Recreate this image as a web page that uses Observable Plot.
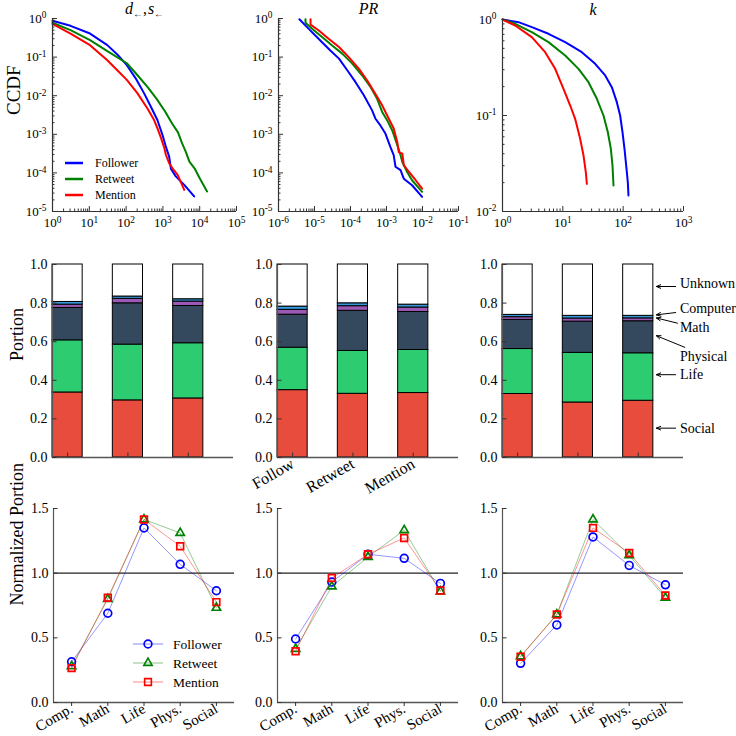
<!DOCTYPE html>
<html><head><meta charset="utf-8">
<script src="https://cdn.jsdelivr.net/npm/d3@7"></script>
<script src="https://cdn.jsdelivr.net/npm/@observablehq/plot@0.6"></script>
<style>
html,body{margin:0;padding:0;background:#fff;}
#fig{position:relative;width:736px;height:736px;overflow:hidden;background:#fff;}
#fig svg{position:absolute;overflow:visible;background:transparent;}
#fig svg text{font-family:"Liberation Serif","Times New Roman",serif;}
</style></head><body><div id="fig"></div>
<script>
// ---------------- data ----------------
const series = ["Follower", "Retweet", "Mention"];
const seriesColors = ["#0000ff", "#008000", "#ff0000"];
const seriesSymbols = ["circle", "triangle", "square"];
const symbolRadius = [3.9, 3.1, 3.8];

// CCDF curves, points as [log10 x, log10 CCDF]
const ccdfD_Follower = [[0,-0.06],[0.49,-0.19],[1.02,-0.39],[1.49,-0.69],[1.76,-0.93],[2.02,-1.21],[2.26,-1.55],[2.49,-1.94],[2.67,-2.28],[2.85,-2.63],[2.99,-3.02],[3.08,-3.32],[3.17,-3.58],[3.22,-3.9],[3.35,-4.09],[3.58,-4.31],[3.85,-4.61]];
const ccdfD_Retweet = [[0,-0.11],[0.49,-0.3],[1.02,-0.56],[1.49,-0.845],[2.02,-1.16],[2.31,-1.47],[2.58,-1.77],[2.82,-2.07],[3.06,-2.41],[3.25,-2.72],[3.41,-2.95],[3.52,-3.23],[3.62,-3.45],[3.72,-3.71],[3.86,-3.88],[4.0,-4.14],[4.2,-4.48]];
const ccdfD_Mention = [[0,-0.14],[0.49,-0.39],[1.02,-0.69],[1.49,-1.08],[1.76,-1.34],[2.02,-1.59],[2.31,-1.94],[2.58,-2.33],[2.76,-2.63],[2.85,-2.84],[2.95,-3.1],[3.04,-3.36],[3.08,-3.53],[3.17,-3.75],[3.26,-3.88],[3.4,-4.05],[3.58,-4.44]];

const ccdfPR_Follower = [[-5.42,-0.02],[-5.16,-0.27],[-4.88,-0.53],[-4.56,-0.83],[-4.32,-1.04],[-4.09,-1.34],[-3.86,-1.65],[-3.63,-1.99],[-3.4,-2.38],[-3.31,-2.59],[-3.17,-2.77],[-3.03,-2.98],[-2.89,-3.33],[-2.8,-3.54],[-2.75,-3.84],[-2.61,-3.93],[-2.52,-4.15],[-2.29,-4.32],[-2.01,-4.62]];
const ccdfPR_Retweet = [[-5.25,-0.02],[-5.25,-0.11],[-5.06,-0.27],[-4.79,-0.48],[-4.51,-0.7],[-4.23,-0.91],[-3.95,-1.17],[-3.68,-1.47],[-3.44,-1.78],[-3.26,-2.08],[-3.12,-2.42],[-2.98,-2.64],[-2.84,-2.9],[-2.7,-3.28],[-2.61,-3.54],[-2.56,-3.72],[-2.43,-3.97],[-2.29,-4.19],[-2.01,-4.49]];
const ccdfPR_Mention = [[-5.11,-0.02],[-5.11,-0.16],[-4.88,-0.31],[-4.6,-0.53],[-4.32,-0.74],[-4.05,-1.0],[-3.77,-1.3],[-3.54,-1.6],[-3.31,-1.95],[-3.12,-2.25],[-2.94,-2.59],[-2.8,-2.85],[-2.7,-3.2],[-2.66,-3.46],[-2.56,-3.5],[-2.52,-3.8],[-2.38,-3.97],[-2.19,-4.19],[-2.01,-4.41]];

const ccdfK_Follower = [[0,0],[0.265,-0.028],[0.486,-0.08],[0.762,-0.149],[1.039,-0.236],[1.315,-0.34],[1.536,-0.462],[1.702,-0.583],[1.812,-0.705],[1.895,-0.861],[1.95,-1.0],[1.989,-1.174],[2.022,-1.347],[2.05,-1.521],[2.077,-1.694],[2.088,-1.833]];
const ccdfK_Retweet = [[0,0],[0.21,-0.045],[0.486,-0.132],[0.762,-0.236],[1.039,-0.375],[1.26,-0.514],[1.425,-0.653],[1.564,-0.826],[1.674,-1.0],[1.746,-1.174],[1.796,-1.347],[1.823,-1.521],[1.84,-1.729]];
const ccdfK_Mention = [[0,0],[0.21,-0.0625],[0.486,-0.184],[0.707,-0.34],[0.873,-0.514],[1.011,-0.722],[1.122,-0.896],[1.204,-1.035],[1.287,-1.243],[1.343,-1.417],[1.381,-1.59],[1.398,-1.712]];

// Portions (middle row); field order: Social, Life, Physical, Math, Computer, Unknown
const methods = ["Follow", "Retweet", "Mention"];
const fields = ["Social", "Life", "Physical", "Math", "Computer", "Unknown"];
const fieldColors = ["#e74c3c", "#2ecc71", "#34495e", "#9b59b6", "#3498db", "#ffffff"];
const portionD_Follow  = [0.337, 0.270, 0.168, 0.017, 0.014, 0.194];
const portionD_Retweet = [0.296, 0.289, 0.214, 0.023, 0.012, 0.166];
const portionD_Mention = [0.306, 0.286, 0.193, 0.023, 0.012, 0.180];
const portionPR_Follow  = [0.349, 0.220, 0.171, 0.025, 0.017, 0.218];
const portionPR_Retweet = [0.330, 0.222, 0.208, 0.024, 0.015, 0.201];
const portionPR_Mention = [0.334, 0.223, 0.197, 0.023, 0.015, 0.208];
const portionK_Follow  = [0.329, 0.233, 0.151, 0.014, 0.012, 0.261];
const portionK_Retweet = [0.285, 0.257, 0.162, 0.016, 0.014, 0.266];
const portionK_Mention = [0.294, 0.246, 0.166, 0.015, 0.013, 0.266];
const portionTicks = [0, 0.2, 0.4, 0.6, 0.8, 1.0];

// Annotations on the right-hand bar panel
const annotLabels = ["Unknown", "Computer", "Math", "Physical", "Life", "Social"];
const annotTextY  = [0.900, 0.773, 0.671, 0.522, 0.429, 0.152];
const annotFromY  = [0.886, 0.751, 0.696, 0.571, 0.429, 0.152];
const annotToY    = [0.886, 0.739, 0.723, 0.631, 0.429, 0.152];
const annotFromX  = [2.62, 2.62, 2.65, 2.77, 2.62, 2.62];
const annotTipX   = [2.30, 2.30, 2.30, 2.30, 2.30, 2.30];
const annotTextX  = [2.69, 2.69, 2.69, 2.69, 2.69, 2.69];

// Normalized portion (bottom row)
const categories = ["Comp.", "Math", "Life", "Phys.", "Social"];
const normD_Follower = [0.315, 0.69, 1.35, 1.068, 0.864];
const normD_Retweet  = [0.28, 0.80, 1.415, 1.311, 0.732];
const normD_Mention  = [0.266, 0.81, 1.415, 1.208, 0.776];
const normPR_Follower = [0.491, 0.931, 1.146, 1.115, 0.921];
const normPR_Retweet  = [0.414, 0.897, 1.125, 1.332, 0.859];
const normPR_Mention  = [0.396, 0.962, 1.146, 1.272, 0.866];
const normK_Follower = [0.303, 0.60, 1.28, 1.06, 0.91];
const normK_Retweet  = [0.357, 0.68, 1.415, 1.138, 0.81];
const normK_Mention  = [0.354, 0.68, 1.35, 1.156, 0.828];
const normTicks = [0, 0.5, 1.0, 1.5];

// ---------------- helpers ----------------
const NS = "http://www.w3.org/2000/svg";
const FONT = '"Liberation Serif", "Times New Roman", serif';
const axisColor = "#333";
const fig = document.getElementById("fig");

function place(svg, left, top) {
  svg.style.left = left + "px";
  svg.style.top = top + "px";
  fig.appendChild(svg);
}
function logTicks(domain) {
  const all = d3.scaleLog().domain(domain).ticks();
  const isMajor = v => Math.abs(Math.log10(v) - Math.round(Math.log10(v))) < 1e-6;
  return {major: all.filter(isMajor), minor: all.filter(v => !isMajor(v))};
}
const expFormat = v => "10^" + Math.round(Math.log10(v));

function fixTexts(svg) {
  svg.querySelectorAll("text").forEach(t => {
    const s = t.textContent;
    const m = /^10\^(-?\d+)$/.exec(s);
    if (m) {
      t.textContent = "10";
      const sup = document.createElementNS(NS, "tspan");
      sup.setAttribute("dy", "-0.45em");
      sup.setAttribute("font-size", "72%");
      sup.textContent = m[1];
      t.appendChild(sup);
    } else if (s === "d←,s←") {
      t.textContent = "";
      const add = (txt, attrs) => {
        const ts = document.createElementNS(NS, "tspan");
        ts.textContent = txt;
        for (const k in attrs) ts.setAttribute(k, attrs[k]);
        t.appendChild(ts);
      };
      add("d", {"font-style": "italic"});
      add("←", {"font-style": "normal", "font-size": "62%", "dy": "3"});
      add(",", {"font-style": "normal", "dy": "-3"});
      add("s", {"font-style": "italic", "dx": "1"});
      add("←", {"font-style": "normal", "font-size": "62%", "dy": "3"});
    }
  });
}

function legend(svg, {x1, x2, xs, xt, ys, fontSize, strokeWidth, symbols, lineOpacity}) {
  const g = d3.select(svg).append("g").attr("text-anchor", "start");
  series.forEach((name, i) => {
    g.append("line").attr("x1", x1).attr("x2", x2).attr("y1", ys[i]).attr("y2", ys[i])
      .attr("stroke", seriesColors[i]).attr("stroke-width", strokeWidth).attr("stroke-opacity", lineOpacity);
    if (symbols) {
      const sym = {circle: d3.symbolCircle, triangle: d3.symbolTriangle, square: d3.symbolSquare}[seriesSymbols[i]];
      const r = symbolRadius[i];
      g.append("path").attr("d", d3.symbol(sym, r * r * Math.PI)())
        .attr("transform", `translate(${xs},${ys[i]})`)
        .attr("fill", "none").attr("stroke", seriesColors[i]).attr("stroke-width", 1.6);
    }
    g.append("text").attr("x", xt).attr("y", ys[i]).attr("dy", "0.35em").attr("text-anchor", "start")
      .attr("font-size", fontSize).attr("fill", "#000").text(name);
  });
}

// ---------------- top row: CCDF ----------------
function ccdfPanel(o) {
  const ml = 50, mr = 22, mt = o.y0, mb = 26;
  const pw = o.x1 - o.x0, ph = o.y1 - o.y0;
  const xt = logTicks(o.xDomain), yt = logTicks(o.yDomain);
  const marks = [
    ...o.curves.map((c, i) => Plot.line(c, {x: d => 10 ** d[0], y: d => 10 ** d[1], stroke: seriesColors[i], strokeWidth: 2})),
    Plot.ruleX([o.xDomain[0]], {stroke: axisColor, strokeWidth: 1.2}),
    Plot.ruleY([o.yDomain[0]], {stroke: axisColor, strokeWidth: 1.2}),
    Plot.tickX(xt.minor, {x: d => d, insetTop: ph - 2.5, stroke: axisColor}),
    Plot.tickX(xt.major, {x: d => d, insetTop: ph - 5, stroke: axisColor}),
    Plot.tickY(yt.minor, {y: d => d, insetRight: pw - 2.5, stroke: axisColor}),
    Plot.tickY(yt.major, {y: d => d, insetRight: pw - 5, stroke: axisColor}),
    Plot.axisX(xt.major, {tickSize: 0, tickPadding: 6, tickFormat: expFormat, label: null}),
    Plot.axisY(yt.major, {tickSize: 0, tickPadding: 6, tickFormat: expFormat, label: null}),
    Plot.text([o.title], {frameAnchor: "top", dy: -5, lineAnchor: "bottom", text: d => d, fontStyle: "italic", fontSize: 16})
  ];
  if (o.ylabel) marks.push(Plot.text([o.ylabel], {frameAnchor: "left", text: d => d, rotate: -90, dx: -39, fontSize: 19}));
  const svg = Plot.plot({
    width: ml + pw + mr, height: mt + ph + mb,
    marginLeft: ml, marginRight: mr, marginTop: mt, marginBottom: mb,
    style: {fontFamily: FONT, fontSize: "13px", color: "#000", background: "transparent"},
    x: {type: "log", domain: o.xDomain},
    y: {type: "log", domain: o.yDomain},
    marks
  });
  fixTexts(svg);
  if (o.legend) legend(svg, {x1: 63, x2: 81, xt: 93, ys: [163, 179, 195], fontSize: 12, strokeWidth: 2.5, symbols: false, lineOpacity: 1});
  place(svg, o.x0 - ml, 0);
}

ccdfPanel({x0: 52, x1: 236, y0: 18, y1: 211, xDomain: [1, 1e5], yDomain: [1e-5, 1],
  curves: [ccdfD_Follower, ccdfD_Retweet, ccdfD_Mention], title: "d←,s←", ylabel: "CCDF", legend: true});
ccdfPanel({x0: 278, x1: 458, y0: 18, y1: 211, xDomain: [1e-6, 1e-1], yDomain: [1e-5, 1],
  curves: [ccdfPR_Follower, ccdfPR_Retweet, ccdfPR_Mention], title: "PR"});
ccdfPanel({x0: 502, x1: 683, y0: 19, y1: 211, xDomain: [1, 1e3], yDomain: [1e-2, 1],
  curves: [ccdfK_Follower, ccdfK_Retweet, ccdfK_Mention], title: "k"});

// ---------------- middle row: portions ----------------
function portionPanel(o) {
  const ml = 50, mr = o.mr || 20, mt = 14, mb = 55;
  const pw = o.x1 - o.x0, ph = 457 - 264;
  const rows = [];
  o.portions.forEach((vals, i) => {
    let acc = 0;
    vals.forEach((v, j) => { rows.push({m: i, field: fields[j], y1: acc, y2: acc + v}); acc += v; });
  });
  const marks = [
    Plot.rect(rows, {x1: d => d.m - 0.25, x2: d => d.m + 0.25, y1: "y1", y2: "y2", fill: "field", stroke: "#000", strokeWidth: 1}),
    Plot.ruleY([0], {stroke: "#555", strokeWidth: 1.4}),
    Plot.ruleX([-0.25], {stroke: "#555", strokeWidth: 1.2}),
    Plot.tickX([0, 1, 2], {x: d => d, insetTop: ph - 4.5, stroke: "#333"}),
    Plot.tickY(portionTicks, {y: d => d, insetRight: pw - 4.5, stroke: "#333"}),
    Plot.axisY(portionTicks, {tickSize: 0, tickPadding: 5, tickFormat: d3.format(".1f"), label: null, fontSize: 14})
  ];
  if (o.xlabels) marks.push(Plot.axisX([0, 1, 2], {tickSize: 0, tickPadding: 5, tickRotate: -30, tickFormat: i => methods[i], fontSize: 16, label: null}));
  if (o.ylabel) marks.push(Plot.text([o.ylabel], {frameAnchor: "left", text: d => d, rotate: -90, dx: -35, fontSize: 18}));
  if (o.annotate) {
    marks.push(Plot.arrow(annotLabels, {x1: (d, i) => annotFromX[i], y1: (d, i) => annotFromY[i], x2: (d, i) => annotTipX[i], y2: (d, i) => annotToY[i], stroke: "#000", strokeWidth: 1, headLength: 7, headAngle: 45}));
    marks.push(Plot.text(annotLabels, {x: (d, i) => annotTextX[i], y: (d, i) => annotTextY[i], text: d => d, textAnchor: "start", fontSize: 14}));
  }
  const svg = Plot.plot({
    width: ml + pw + mr, height: mt + ph + mb,
    marginLeft: ml, marginRight: mr, marginTop: mt, marginBottom: mb,
    style: {fontFamily: FONT, fontSize: "14px", color: "#000", background: "transparent"},
    x: {domain: [-0.25, 2.75], axis: o.xlabels ? undefined : null},
    y: {domain: [0, 1]},
    color: {domain: fields, range: fieldColors},
    marks
  });
  place(svg, o.x0 - ml, 264 - mt);
}
portionPanel({x0: 52, x1: 233, portions: [portionD_Follow, portionD_Retweet, portionD_Mention], ylabel: "Portion"});
portionPanel({x0: 277, x1: 458, portions: [portionPR_Follow, portionPR_Retweet, portionPR_Mention], xlabels: true});
portionPanel({x0: 502, x1: 683, portions: [portionK_Follow, portionK_Retweet, portionK_Mention], annotate: true, mr: 56});

// ---------------- bottom row: normalized portion ----------------
function normPanel(o) {
  const ml = 50, mr = 20, mt = 10, mb = 32;
  const pw = o.x1 - o.x0, ph = 702 - 508;
  const marks = [
    Plot.ruleY([1], {stroke: "#222", strokeWidth: 1.4}),
    ...o.values.map((v, i) => Plot.line(v, {x: (d, j) => j, y: d => d, stroke: seriesColors[i], strokeWidth: 0.7, strokeOpacity: 0.6})),
    ...o.values.map((v, i) => Plot.dot(v, {x: (d, j) => j, y: d => d, stroke: seriesColors[i], fill: "none", symbol: seriesSymbols[i], r: symbolRadius[i], strokeWidth: 1.7})),
    Plot.ruleY([0], {stroke: "#555", strokeWidth: 1.4}),
    Plot.ruleX([-0.5], {stroke: "#555", strokeWidth: 1.2}),
    Plot.tickY(normTicks, {y: d => d, insetRight: pw - 4.5, stroke: "#333"}),
    Plot.axisY(normTicks, {tickSize: 0, tickPadding: 5, tickFormat: d3.format(".1f"), label: null, fontSize: 14}),
    Plot.axisX([0, 1, 2, 3, 4], {tickSize: 4, tickPadding: 1, tickRotate: -30, tickFormat: i => categories[i], fontSize: 15, label: null, stroke: "#333"})
  ];
  if (o.ylabel) marks.push(Plot.text([o.ylabel], {frameAnchor: "left", text: d => d, rotate: -90, dx: -36, fontSize: 18}));
  const svg = Plot.plot({
    width: ml + pw + mr, height: mt + ph + mb,
    marginLeft: ml, marginRight: mr, marginTop: mt, marginBottom: mb,
    style: {fontFamily: FONT, fontSize: "14px", color: "#000", background: "transparent"},
    x: {domain: [-0.5, 4.5]},
    y: {domain: [0, 1.5]},
    marks
  });
  if (o.legend) legend(svg, {x1: 130, x2: 160, xs: 145, xt: 170, ys: [146, 165, 184], fontSize: 13.5, strokeWidth: 0.8, symbols: true, lineOpacity: 0.6});
  place(svg, o.x0 - ml, 508 - mt);
}
normPanel({x0: 53, x1: 234, values: [normD_Follower, normD_Retweet, normD_Mention], ylabel: "Normalized Portion", legend: true});
normPanel({x0: 277, x1: 458, values: [normPR_Follower, normPR_Retweet, normPR_Mention]});
normPanel({x0: 502, x1: 683, values: [normK_Follower, normK_Retweet, normK_Mention]});
</script>
</body></html>
